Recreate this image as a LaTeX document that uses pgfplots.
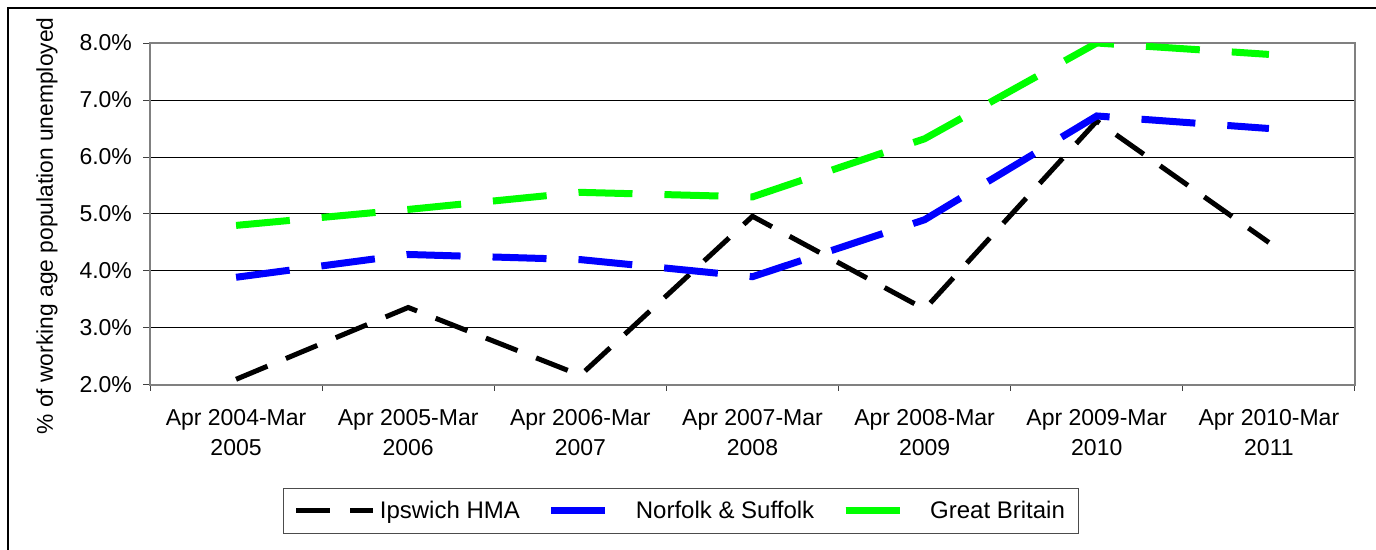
\documentclass[border=0pt]{standalone}
\usepackage{pgfplots}
\pgfplotsset{compat=1.18}
\usepackage{fontspec}
\setmainfont{Liberation Sans}
\definecolor{gbgreen}{RGB}{0,255,0}
\definecolor{nsblue}{RGB}{0,0,255}
\definecolor{framegray}{RGB}{128,128,128}
\pgfplotsset{
  dashlegend/.style={legend image code/.code={\draw[##1] (0pt,0pt) -- (38.5pt,0pt);}},
  solidlegend/.style={legend image code/.code={\path (0pt,0pt) -- (38.5pt,0pt); \draw[##1, solid] (0pt,0pt) -- (26.5pt,0pt);}},
}
\begin{document}
\begin{tikzpicture}
\path[use as bounding box] (0,0) rectangle (688pt,275pt);
\draw[line width=1pt] (4pt,-2pt) -- (4pt,271pt) -- (690pt,271pt);
\begin{axis}[
  at={(75pt,82.5pt)}, anchor=south west,
  scale only axis, width=602.5pt, height=171pt,
  xmin=-0.5, xmax=6.5, ymin=2, ymax=8,
  xtick={0,...,6},
  xticklabels={{Apr 2004-Mar\\2005},{Apr 2005-Mar\\2006},{Apr 2006-Mar\\2007},{Apr 2007-Mar\\2008},{Apr 2008-Mar\\2009},{Apr 2009-Mar\\2010},{Apr 2010-Mar\\2011}},
  minor xtick={-0.5,0.5,...,6.5},
  major x tick style={draw=none},
  ytick={2,3,4,5,6,7,8},
  yticklabels={2.0\%,3.0\%,4.0\%,5.0\%,6.0\%,7.0\%,8.0\%},
  tick align=outside, tick pos=left,
  major tick length=3.5pt, minor tick length=3pt,
  tick style={black!75, line width=0.5pt},
  ymajorgrids, grid style={black, line width=0.5pt},
  axis line style={framegray, line width=1pt},
  ticklabel style={font=\fontsize{11.5}{14.5}\selectfont},
  xticklabel style={align=center, font=\fontsize{11.5}{15}\selectfont, yshift=-5pt},
  yticklabel style={xshift=-2pt},
  ylabel={\% of working age population unemployed},
  ylabel style={at={(axis description cs:-0.0855,0.465)}, anchor=center, font=\fontsize{11.4}{13}\selectfont},
  legend columns=3,
  legend style={at={(axis description cs:0.441,-0.368)}, anchor=center,
    draw=black!70, line width=0.5pt, font=\fontsize{12}{14}\selectfont,
    inner xsep=5pt, inner ysep=4pt,
    /tikz/every even column/.append style={column sep=12pt}},
]
\addplot[black, line width=2.5pt, dash pattern=on 17pt off 10pt, dashlegend]
  coordinates {(0,2.10) (1,3.36) (2,2.17) (3,4.96) (4,3.33) (5,6.63) (6,4.50)};
\addlegendentry{Ipswich HMA}
\addplot[nsblue, line width=3.5pt, dash pattern=on 27pt off 16pt, solidlegend]
  coordinates {(0,3.89) (1,4.29) (2,4.20) (3,3.90) (4,4.90) (5,6.72) (6,6.50)};
\addlegendentry{Norfolk \& Suffolk}
\addplot[gbgreen, line width=3.5pt, dash pattern=on 27pt off 16pt, solidlegend]
  coordinates {(0,4.80) (1,5.08) (2,5.38) (3,5.30) (4,6.32) (5,8.00) (6,7.80)};
\addlegendentry{Great Britain}
\end{axis}
\end{tikzpicture}
\end{document}
